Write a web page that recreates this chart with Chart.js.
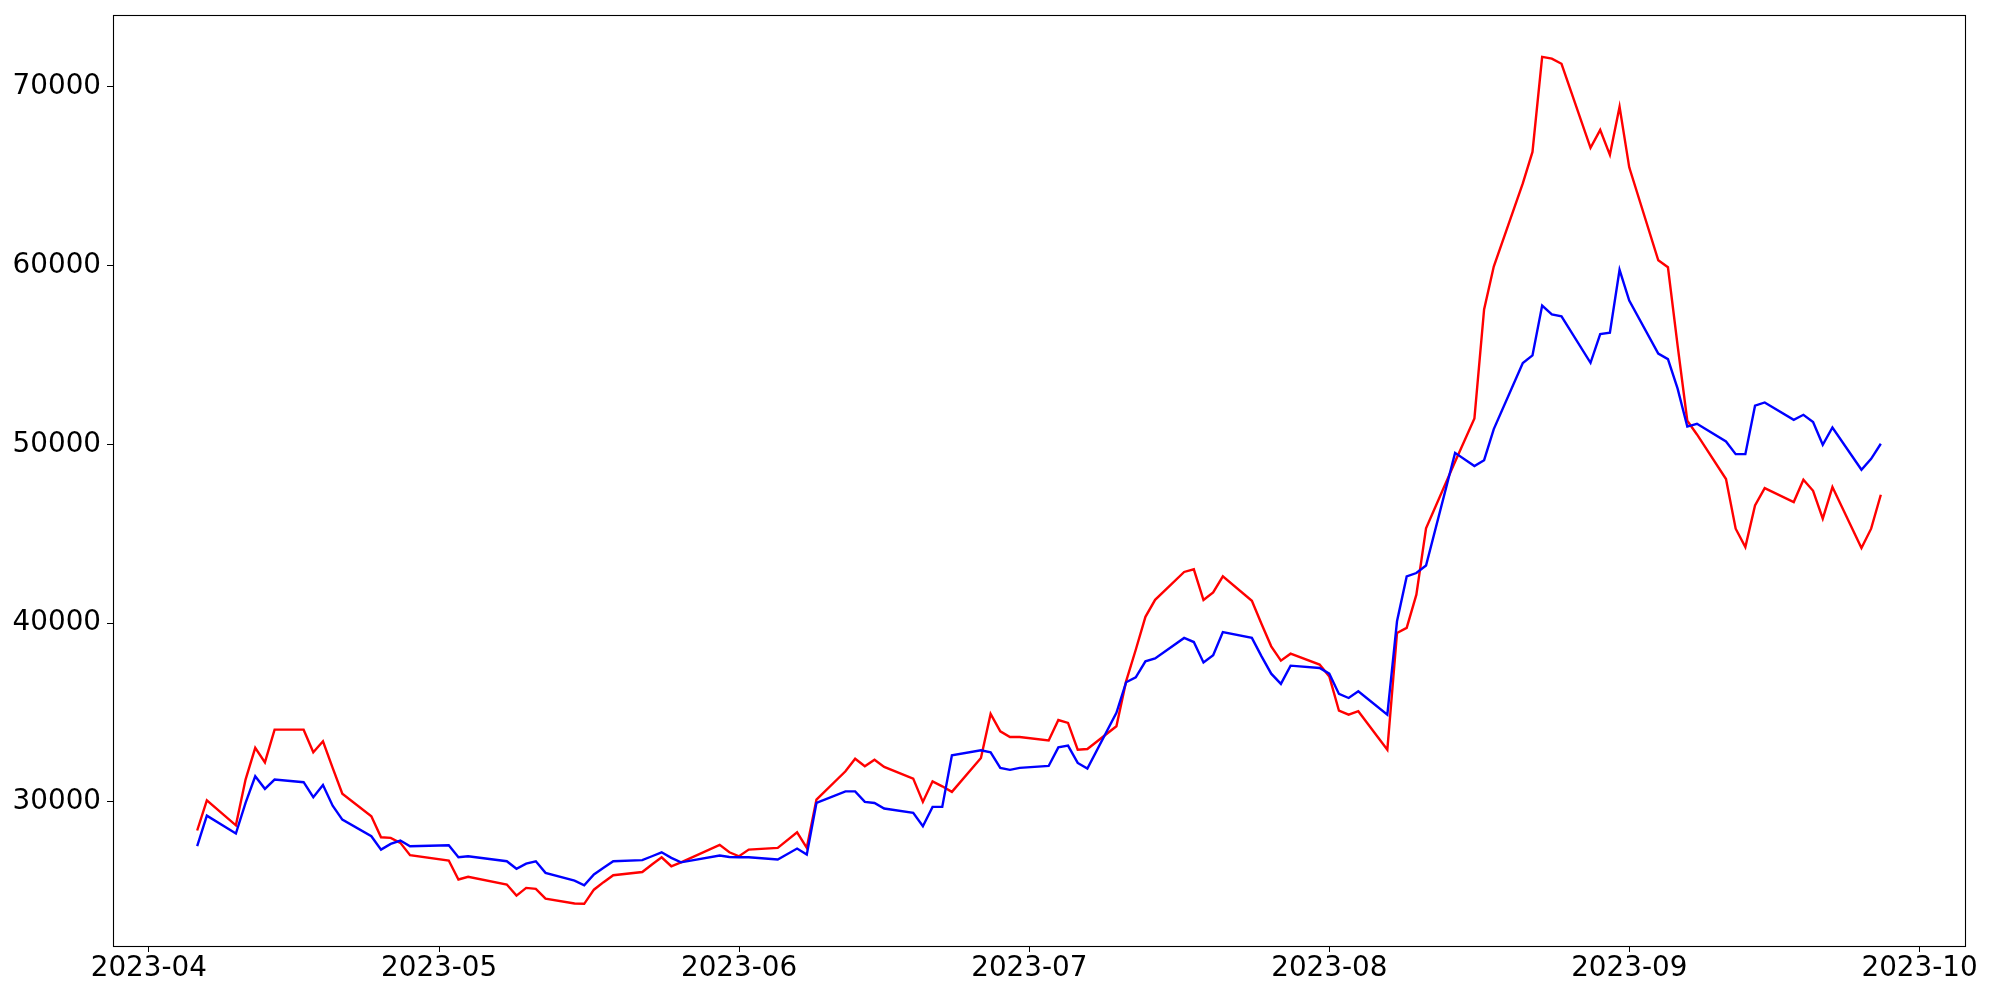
<!DOCTYPE html>
<html>
<head>
<meta charset="utf-8">
<script src="https://cdn.jsdelivr.net/npm/chart.js@4.4.1/dist/chart.umd.min.js"></script>
<style>
  html, body { margin: 0; padding: 0; background: #ffffff; }
  #wrap { width: 2000px; height: 1000px; }
</style>
</head>
<body>
<div id="wrap"><canvas id="c" width="2000" height="1000"></canvas></div>
<script>
// ---- data ----
const dates = [
  '2023-04-06','2023-04-07','2023-04-10','2023-04-11','2023-04-12','2023-04-13','2023-04-14',
  '2023-04-17','2023-04-18','2023-04-19','2023-04-20','2023-04-21','2023-04-24','2023-04-25',
  '2023-04-26','2023-04-27','2023-04-28',
  '2023-05-02','2023-05-03','2023-05-04','2023-05-08','2023-05-09','2023-05-10','2023-05-11',
  '2023-05-12','2023-05-15','2023-05-16','2023-05-17','2023-05-18','2023-05-19','2023-05-22',
  '2023-05-23','2023-05-24','2023-05-25','2023-05-26','2023-05-30','2023-05-31',
  '2023-06-01','2023-06-02','2023-06-05','2023-06-07','2023-06-08','2023-06-09','2023-06-12',
  '2023-06-13','2023-06-14','2023-06-15','2023-06-16','2023-06-19','2023-06-20','2023-06-21',
  '2023-06-22','2023-06-23','2023-06-26','2023-06-27','2023-06-28','2023-06-29','2023-06-30',
  '2023-07-03','2023-07-04','2023-07-05','2023-07-06','2023-07-07','2023-07-10','2023-07-11',
  '2023-07-12','2023-07-13','2023-07-14','2023-07-17','2023-07-18','2023-07-19','2023-07-20',
  '2023-07-21','2023-07-24','2023-07-25','2023-07-26','2023-07-27','2023-07-28','2023-07-31',
  '2023-08-01','2023-08-02','2023-08-03','2023-08-04','2023-08-07','2023-08-08','2023-08-09',
  '2023-08-10','2023-08-11','2023-08-14','2023-08-16','2023-08-17','2023-08-18','2023-08-21',
  '2023-08-22','2023-08-23','2023-08-24','2023-08-25','2023-08-28','2023-08-29','2023-08-30',
  '2023-08-31',
  '2023-09-01','2023-09-04','2023-09-05','2023-09-06','2023-09-07','2023-09-08','2023-09-11',
  '2023-09-12','2023-09-13','2023-09-14','2023-09-15','2023-09-18','2023-09-19','2023-09-20',
  '2023-09-21','2023-09-22','2023-09-25','2023-09-26','2023-09-27'
];

const redValues = [
  28400,30090,28690,31250,33020,32210,34040,
  34040,32780,33390,31900,30460,29200,28020,
  27990,27710,27020,
  26720,25660,25810,25380,24760,25190,25140,
  24590,24320,24300,25090,25510,25900,26080,
  26500,26900,26400,26620,27600,27180,
  26960,27330,27430,28300,27430,30130,31710,
  32410,31990,32360,31960,31300,30000,31150,
  30870,30560,32460,34920,33950,33630,33630,
  33430,34580,34420,32920,32960,34230,36740,
  38510,40350,41300,42860,43010,41290,41720,
  42610,41250,39950,38700,37900,38290,37680,
  37020,35100,34880,35070,32920,39450,39730,
  41590,45300,49020,51450,57540,59940,64590,
  66350,71670,71570,71280,66580,67580,66190,
  68880,
  65490,60290,59900,55520,51320,50550,48060,
  45280,44250,46580,47550,46770,48020,47400,
  45840,47610,44200,45280,47180
];

const blueValues = [
  27520,29230,28230,29940,31430,30730,31250,
  31100,30260,30950,29790,29010,28080,27330,
  27650,27840,27520,
  27570,26900,26960,26680,26260,26550,26680,
  26030,25600,25340,25940,26310,26680,26740,
  26960,27180,26870,26620,27000,26920,
  26900,26900,26780,27390,27050,29940,30590,
  30590,30000,29940,29630,29390,28640,29720,
  29720,32610,32890,32770,31900,31790,31900,
  32010,33050,33150,32180,31860,34980,36690,
  36970,37860,38020,39170,38940,37800,38200,
  39500,39170,38140,37170,36600,37620,37490,
  37170,36040,35810,36190,34880,40100,42610,
  42800,43220,49520,48780,49110,50850,54550,
  54970,57760,57260,57160,54560,56160,56240,
  59760,
  58040,55070,54760,53110,50990,51150,50160,
  49450,49450,52160,52340,51370,51650,51240,
  49970,50940,48580,49190,50030
];

const xTickLabels = ['2023-04','2023-05','2023-06','2023-07','2023-08','2023-09','2023-10'];
const yTickValues = [30000, 40000, 50000, 60000, 70000];

// ---- helpers ----
const ORIGIN = Date.UTC(2023, 3, 1);
function dayOf(s) {
  const p = s.split('-').map(Number);
  return (Date.UTC(p[0], p[1] - 1, p[2] || 1) - ORIGIN) / 86400000;
}
const xTickDays = xTickLabels.map(l => dayOf(l + '-01'));
const redPoints = dates.map((d, i) => ({ x: dayOf(d), y: redValues[i] }));
const bluePoints = dates.map((d, i) => ({ x: dayOf(d), y: blueValues[i] }));

const FONT = { family: 'DejaVu Sans', size: 27.8 };

const framePlugin = {
  id: 'frame',
  beforeDraw(chart) {
    const ctx = chart.ctx;
    ctx.save();
    ctx.fillStyle = '#ffffff';
    ctx.fillRect(0, 0, chart.width, chart.height);
    ctx.restore();
  },
  afterDraw(chart) {
    const a = chart.chartArea;
    const ctx = chart.ctx;
    ctx.save();
    ctx.strokeStyle = '#000000';
    ctx.lineWidth = 1.1;
    ctx.strokeRect(Math.round(a.left) + 0.5, Math.round(a.top) + 0.5,
                   Math.round(a.right - a.left), Math.round(a.bottom - a.top));
    ctx.restore();
  }
};

new Chart(document.getElementById('c'), {
  type: 'line',
  data: {
    datasets: [
      { label: 'red', data: redPoints, borderColor: '#ff0000', borderWidth: 2.4,
        pointRadius: 0, tension: 0, fill: false, order: 2 },
      { label: 'blue', data: bluePoints, borderColor: '#0000ff', borderWidth: 2.4,
        pointRadius: 0, tension: 0, fill: false, order: 1 }
    ]
  },
  options: {
    responsive: false,
    animation: false,
    devicePixelRatio: 1,
    layout: { padding: { left: 0, top: 15, right: 35, bottom: 0 } },
    plugins: { legend: { display: false }, tooltip: { enabled: false } },
    scales: {
      x: {
        type: 'linear',
        min: -3.7,
        max: 187.7,
        afterBuildTicks(scale) { scale.ticks = xTickDays.map(v => ({ value: v })); },
        afterFit(scale) { scale.height = 54; scale.paddingLeft = 0; scale.paddingRight = 0; },
        ticks: {
          autoSkip: false, maxRotation: 0, minRotation: 0,
          color: '#000000', font: FONT, padding: 0,
          callback(v) { const i = xTickDays.indexOf(v); return i >= 0 ? xTickLabels[i] : ''; }
        },
        grid: { drawOnChartArea: false, drawTicks: true, tickLength: 6, color: '#000000', lineWidth: 1 },
        border: { display: false }
      },
      y: {
        type: 'linear',
        min: 21940,
        max: 74010,
        afterBuildTicks(scale) { scale.ticks = yTickValues.map(v => ({ value: v })); },
        afterFit(scale) { scale.width = 113; scale.paddingTop = 0; scale.paddingBottom = 0; },
        ticks: {
          color: '#000000', font: FONT, padding: 6,
          callback(v) { return String(v); }
        },
        grid: { drawOnChartArea: false, drawTicks: true, tickLength: 6, color: '#000000', lineWidth: 1 },
        border: { display: false }
      }
    }
  },
  plugins: [framePlugin]
});
</script>
</body>
</html>
